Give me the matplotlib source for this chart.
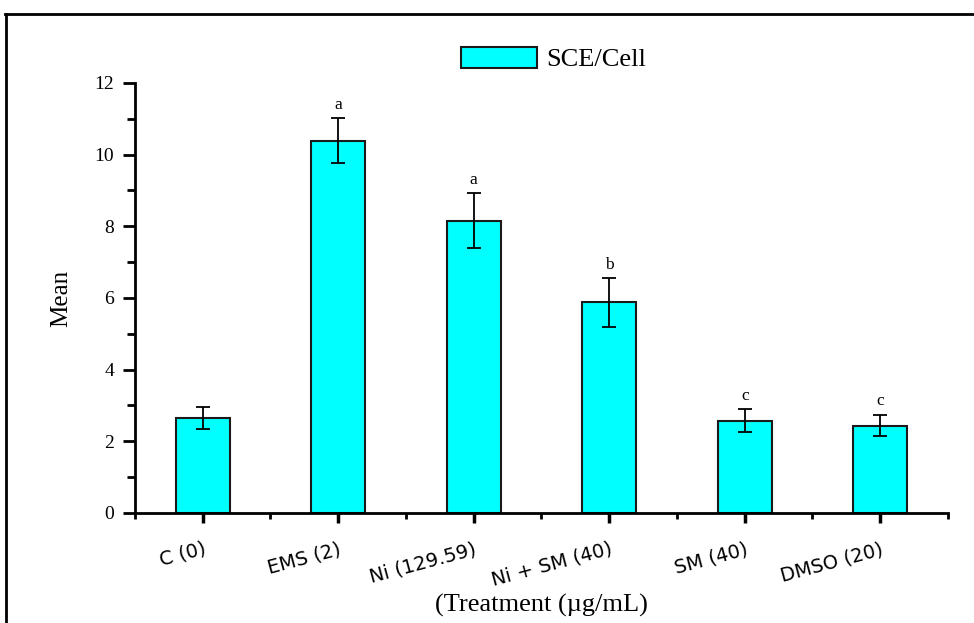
import matplotlib.pyplot as plt
from matplotlib.lines import Line2D
import numpy as np

treatments = ['C (0)', 'EMS (2)', 'Ni (129.59)', 'Ni + SM (40)', 'SM (40)', 'DMSO (20)']
means = [2.65, 10.39, 8.16, 5.88, 2.57, 2.44]
errors = [0.31, 0.63, 0.77, 0.68, 0.32, 0.30]
letters = ['', 'a', 'a', 'b', 'c', 'c']

serif = 'Liberation Serif'

fig = plt.figure(figsize=(9.74, 6.23), dpi=100)
ax = fig.add_axes([0.1386, 0.1766, 0.8347, 0.6902])

x = np.arange(len(treatments))
ax.bar(x, means, width=0.4, color='#00FFFF', edgecolor='#1a1a1a', linewidth=1.5,
       label='SCE/Cell', zorder=2)
ax.errorbar(x, means, yerr=errors, fmt='none', ecolor='black', elinewidth=1.3,
            capsize=5, capthick=1.3, zorder=3)

for xi, m, e, t in zip(x, means, errors, letters):
    if t:
        ax.text(xi, m + e + 0.15, t, ha='center', va='bottom', fontsize=12.5,
                family=serif)

ax.set_xlim(-0.5, 5.5)
ax.set_ylim(0, 12)
ax.set_yticks([0, 2, 4, 6, 8, 10, 12])
ax.set_yticks([1, 3, 5, 7, 9, 11], minor=True)
ax.set_xticks(x)
ax.set_xticks(np.arange(-0.5, 6, 1), minor=True)
ax.set_xticklabels(treatments, rotation=15, ha='right', rotation_mode='anchor',
                   fontsize=14, family='DejaVu Sans')
for lab in ax.get_yticklabels():
    lab.set_family(serif)
    lab.set_fontsize(14)

for s in ['top', 'right']:
    ax.spines[s].set_visible(False)
for s in ['left', 'bottom']:
    ax.spines[s].set_linewidth(2)

ax.tick_params(axis='y', which='major', length=9, width=2, direction='out', pad=6)
ax.tick_params(axis='y', which='minor', length=6, width=2, direction='out')
ax.tick_params(axis='x', which='major', length=7, width=2.5, direction='out', pad=12)
ax.tick_params(axis='x', which='minor', length=4, width=2, direction='out')

ax.set_ylabel('Mean', family=serif, fontsize=18, labelpad=16)
ax.set_xlabel('(Treatment (\u00b5g/mL)', family=serif, fontsize=19, labelpad=3)

leg = ax.legend(loc='upper center', bbox_to_anchor=(0.515, 1.14), frameon=False,
                prop={'family': serif, 'size': 19}, handlelength=2.9, handleheight=0.85,
                handletextpad=0.35)

# outer frame around the figure
fig.add_artist(Line2D([5.5 / 974, 5.5 / 974], [0, 1 - 14 / 623], color='black',
                      linewidth=2, transform=fig.transFigure))
fig.add_artist(Line2D([5 / 974, 1], [1 - 14 / 623, 1 - 14 / 623], color='black',
                      linewidth=2, transform=fig.transFigure))

fig.savefig('out.png', dpi=100)
